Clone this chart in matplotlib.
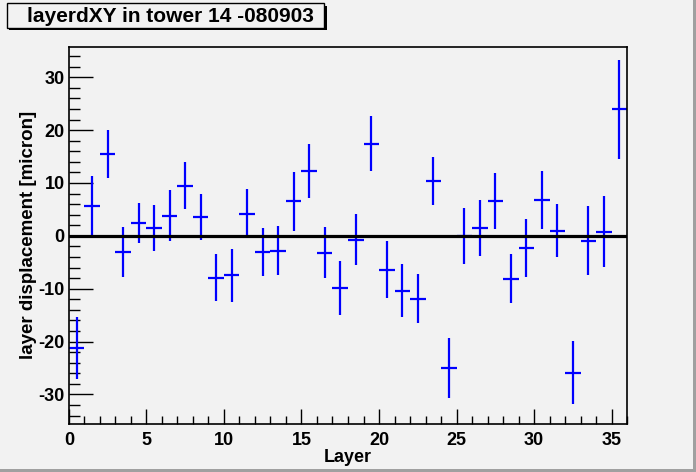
import matplotlib
matplotlib.use("Agg")
import matplotlib.pyplot as plt
from matplotlib.patches import Rectangle
from matplotlib.ticker import MultipleLocator
import numpy as np

# layer displacement per layer (tower 14, run 080903)
layers = np.arange(36)
displacement = [-21.2, 5.7, 15.5, -3.0, 2.5, 1.5, 3.8, 9.5, 3.6, -7.9,
                -7.5, 4.2, -3.1, -2.8, 6.5, 12.3, -3.2, -9.8, -0.7, 17.4,
                -6.4, -10.4, -11.9, 10.4, -25.0, -0.1, 1.5, 6.6, -8.1, -2.3,
                6.8, 1.0, -25.9, -0.9, 0.8, 23.9]
errors = [5.9, 5.6, 4.6, 4.7, 3.8, 4.3, 4.8, 4.5, 4.4, 4.5,
          5.0, 4.6, 4.5, 4.7, 5.6, 5.1, 4.8, 5.1, 4.9, 5.2,
          5.4, 5.0, 4.6, 4.6, 5.7, 5.3, 5.3, 5.3, 4.6, 5.5,
          5.5, 5.0, 6.0, 6.5, 6.75, 9.4]

bg = "#f2f2f2"
plt.rcParams["font.family"] = ["Liberation Sans", "DejaVu Sans"]
plt.rcParams["font.weight"] = "bold"
plt.rcParams["axes.unicode_minus"] = False

fig = plt.figure(figsize=(6.96, 4.72), dpi=100, facecolor=bg)
ax = fig.add_axes([0.0991, 0.1017, 0.8018, 0.7996], facecolor=bg)

ax.errorbar(layers + 0.5, displacement, xerr=0.5, yerr=errors,
            fmt="none", ecolor="#0000ff", elinewidth=1.6, capsize=0)
ax.axhline(0, color="black", lw=2.3, zorder=3)

ax.set_xlim(0, 36)
ax.set_ylim(-35.6, 35.8)
ax.xaxis.set_major_locator(MultipleLocator(5))
ax.xaxis.set_minor_locator(MultipleLocator(1))
ax.yaxis.set_major_locator(MultipleLocator(10))
ax.yaxis.set_minor_locator(MultipleLocator(2))
ax.tick_params(axis="both", which="both", direction="in", top=False, right=False,
               labelsize=13, width=1)
ax.tick_params(axis="x", which="major", length=11, pad=6)
ax.tick_params(axis="x", which="minor", length=5.5)
ax.tick_params(axis="y", which="major", length=17, pad=3)
ax.tick_params(axis="y", which="minor", length=8)
for lbl in ax.get_xticklabels() + ax.get_yticklabels():
    lbl.set_fontweight("bold")
for sp in ax.spines.values():
    sp.set_linewidth(1.2)

ax.set_xlabel("Layer", fontsize=13, fontweight="bold", labelpad=0)
ax.set_ylabel("layer displacement [micron]", fontsize=13.5, fontweight="bold", labelpad=1)

# title box with shadow, ROOT style
fig.patches.append(Rectangle((9 / 696, 1 - 30 / 472), 318 / 696, 24 / 472,
                             transform=fig.transFigure, facecolor="black",
                             edgecolor="none"))
fig.patches.append(Rectangle((7 / 696, 1 - 28 / 472), 317 / 696, 24.5 / 472,
                             transform=fig.transFigure, facecolor=bg,
                             edgecolor="black", lw=1))
fig.text(170 / 696, 1 - 16 / 472, "layerdXY in tower 14 -080903",
         ha="center", va="center", fontsize=15, fontweight="bold")

# canvas bevel on right and bottom
fig.patches.append(Rectangle((1 - 3 / 696, 0), 3 / 696, 1,
                             transform=fig.transFigure, facecolor="#a0a0a0",
                             edgecolor="none"))
fig.patches.append(Rectangle((0, 0), 1, 3 / 472,
                             transform=fig.transFigure, facecolor="#a0a0a0",
                             edgecolor="none"))

fig.savefig("out.png", dpi=100, facecolor=bg)
